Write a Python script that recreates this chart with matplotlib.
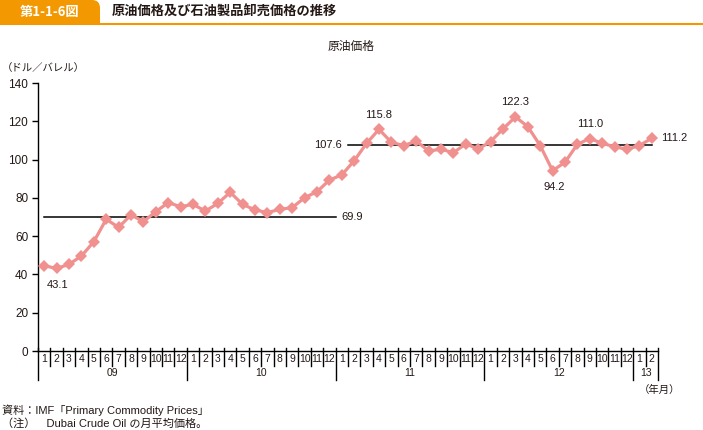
import matplotlib
matplotlib.use("Agg")
import matplotlib.pyplot as plt
from matplotlib.patches import Rectangle, FancyBboxPatch
from matplotlib.lines import Line2D

JP = ['Noto Sans CJK JP', 'DejaVu Sans']
NUM = ['Liberation Sans', 'Noto Sans CJK JP', 'DejaVu Sans']
plt.rcParams['font.family'] = NUM

# ---- data ----
years = ['09', '10', '11', '12', '13']
months_per_year = [12, 12, 12, 12, 2]
prices = [44.6, 43.1, 45.3, 49.6, 57.1, 68.8, 64.6, 71.1, 67.6, 72.8, 77.5, 75.4,
          76.6, 73.1, 77.1, 82.9, 76.6, 73.7, 72.3, 74.0, 74.9, 80.1, 83.2, 89.3,
          92.0, 99.4, 108.5, 115.8, 109.0, 107.3, 109.7, 104.5, 105.4, 103.6, 108.2, 105.5,
          109.4, 116.0, 122.3, 117.2, 107.3, 94.2, 98.6, 108.0, 111.0, 108.5, 106.7, 105.4,
          107.3, 111.2]
avg_values = [69.9, 107.6]
avg_ranges = [(0, 23.5), (24.5, 49)]
labeled_points = {1: 'below', 27: 'above', 38: 'above', 41: 'below', 44: 'above', 49: 'right'}
yticks = [0, 20, 40, 60, 80, 100, 120, 140]

W, H = 703, 430
fig = plt.figure(figsize=(W / 100, H / 100), dpi=100)

# overlay axes in pixel coords
ov = fig.add_axes([0, 0, 1, 1], zorder=0)
ov.set_xlim(0, W)
ov.set_ylim(H, 0)
ov.axis('off')

orange = '#F39800'
dark = '#231815'
ov.add_patch(FancyBboxPatch((0, 0), 100, 23, boxstyle='round,pad=0,rounding_size=8',
                            fc=orange, ec='none'))
ov.add_patch(Rectangle((0, 0), 90, 23, fc=orange, ec='none'))
ov.add_patch(Rectangle((0, 12), 100, 11, fc=orange, ec='none'))
ov.plot([0, W], [23.5, 23.5], color=orange, lw=1.5, solid_capstyle='butt')
ov.text(50, 12, '第1-1-6図', color='white', fontsize=9.5, fontweight='bold',
        ha='center', va='center', family=JP)
ov.text(112, 12, '原油価格及び石油製品卸売価格の推移', color=dark, fontsize=9.5,
        fontweight='bold', ha='left', va='center', family=JP)
ov.text(351, 46, '原油価格', color=dark, fontsize=8.5, ha='center', va='center', family=JP)
ov.text(2, 68, '（ドル／バレル）', color=dark, fontsize=7.5, ha='left', va='center', family=JP)
ov.text(660, 390, '（年月）', color=dark, fontsize=7.5, ha='center', va='center', family=JP)
ov.text(2, 410, '資料：IMF「Primary Commodity Prices」', color=dark, fontsize=8,
        ha='left', va='center', family=NUM)
ov.text(2, 423, '（注）　Dubai Crude Oil の月平均価格。', color=dark, fontsize=8,
        ha='left', va='center', family=NUM)

# main axes
ax = fig.add_axes([38 / W, 1 - 351 / H, 620 / W, 268 / H], zorder=1)
ax.patch.set_alpha(0)
n = len(prices)
xs = list(range(n))
ax.plot(xs, prices, color='#F0908F', lw=2.3, marker='D', markersize=6.3,
        markeredgewidth=0, zorder=3)
for val, (x0, x1) in zip(avg_values, avg_ranges):
    ax.plot([x0, x1], [val, val], color='black', lw=1.1, zorder=2)
ax.text(avg_ranges[0][1] + 0.5, avg_values[0], f'{avg_values[0]:.1f}', fontsize=8,
        color=dark, ha='left', va='center')
ax.text(avg_ranges[1][0] - 0.5, avg_values[1], f'{avg_values[1]:.1f}', fontsize=8,
        color=dark, ha='right', va='center')
for i, pos in labeled_points.items():
    v = prices[i]
    if pos == 'below':
        ax.annotate(f'{v:.1f}', (i, v), xytext=(1, -8), textcoords='offset points',
                    ha='center', va='top', fontsize=8, color=dark)
    elif pos == 'above':
        ax.annotate(f'{v:.1f}', (i, v), xytext=(0, 7), textcoords='offset points',
                    ha='center', va='bottom', fontsize=8, color=dark)
    else:
        ax.annotate(f'{v:.1f}', (i, v), xytext=(7, 0), textcoords='offset points',
                    ha='left', va='center', fontsize=8, color=dark)

ax.set_xlim(-0.5, n - 0.5)
ax.set_ylim(0, 140)
ax.set_yticks(yticks)
ax.tick_params(axis='y', direction='out', length=4, width=1, labelsize=8.5,
               labelcolor=dark, pad=3)
ax.set_xticks([])
for s in ['top', 'right']:
    ax.spines[s].set_visible(False)
ax.spines['left'].set_linewidth(1)
ax.spines['bottom'].set_linewidth(1)

axh = 268.0
tr = ax.get_xaxis_transform()
idx = 0
year_bounds = [-0.5]
for y, m in zip(years, months_per_year):
    for k in range(m):
        ax.text(idx + k, -7.5 / axh, str(k + 1), transform=tr, ha='center', va='center',
                fontsize=7.5, color=dark)
    ax.text(idx + (m - 1) / 2, -22 / axh, y, transform=tr, ha='center', va='center',
            fontsize=7.5, color=dark)
    idx += m
    year_bounds.append(idx - 0.5)
for b in range(n + 1):
    xb = b - 0.5
    if xb in year_bounds:
        y0 = -29 / axh
    else:
        y0 = -15 / axh
    ax.add_line(Line2D([xb, xb], [3 / axh, y0], transform=tr, color='black', lw=1,
                       clip_on=False))

fig.savefig('out.png', dpi=100)
